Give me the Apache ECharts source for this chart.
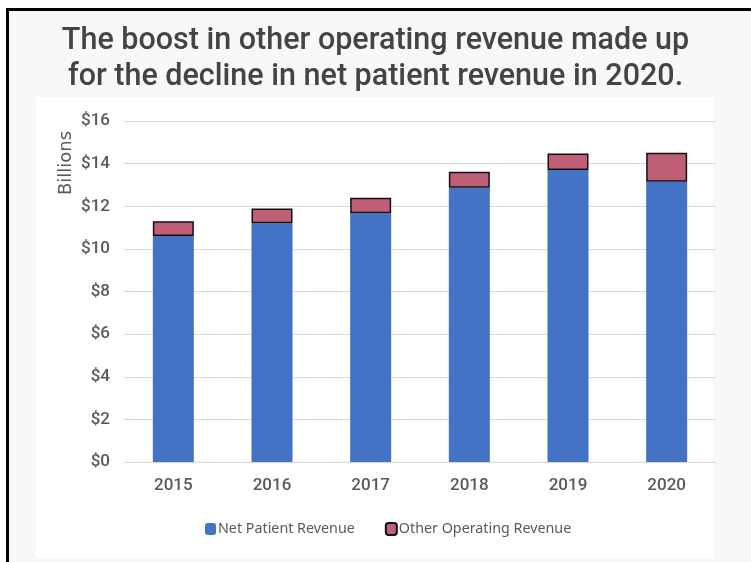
<!DOCTYPE html>
<html>
<head>
<meta charset="utf-8">
<script src="https://cdn.jsdelivr.net/npm/echarts@6/dist/echarts.min.js"></script>
<style>
  html, body { margin: 0; padding: 0; background: #fff; }
  #chart { width: 751px; height: 562px; }
</style>
</head>
<body>
<div id="chart"></div>
<script>
const years = ['2015', '2016', '2017', '2018', '2019', '2020']
const netPatient = [10.6, 11.2, 11.67, 12.87, 13.7, 13.15]
const otherOperating = [0.7, 0.69, 0.73, 0.75, 0.77, 1.36]
const yTicks = [0, 2, 4, 6, 8, 10, 12, 14, 16]

const chart = echarts.init(document.getElementById('chart'))
const axisText = { color: '#595959', fontSize: 17, fontWeight: 500, fontFamily: 'Roboto' }

chart.setOption({
  animation: false,
  graphic: [
    {
      type: 'rect',
      z: -10,
      shape: { x: 7.5, y: 9.5, width: 800, height: 600 },
      style: { fill: '#f8f8f8', stroke: '#000', lineWidth: 3 }
    },
    {
      type: 'rect',
      z: -9,
      shape: { x: 36, y: 97, width: 677, height: 461 },
      style: { fill: '#fff' }
    },
    {
      type: 'text',
      left: 'center',
      top: 23,
      style: {
        text: 'The boost in other operating revenue made up\nfor the decline in net patient revenue in 2020.',
        fill: '#444',
        font: '500 30.5px Roboto',
        lineHeight: 36,
        textAlign: 'center'
      }
    },
    {
      type: 'text',
      x: 66,
      y: 163,
      rotation: Math.PI / 2,
      style: {
        text: 'Billions',
        fill: '#595959',
        font: '18px "DejaVu Sans"',
        textAlign: 'center',
        textVerticalAlign: 'middle'
      }
    }
  ],
  grid: { left: 124, right: 35, top: 121, bottom: 100 },
  xAxis: {
    type: 'category',
    data: years,
    axisTick: { show: false },
    axisLine: { lineStyle: { color: '#d9d9d9' } },
    axisLabel: Object.assign({ margin: 15 }, axisText)
  },
  yAxis: {
    type: 'value',
    min: yTicks[0],
    max: yTicks[yTicks.length - 1],
    interval: 2,
    axisLine: { show: false },
    axisTick: { show: false },
    splitLine: { lineStyle: { color: '#d9d9d9' } },
    axisLabel: Object.assign({ margin: 14, formatter: v => '$' + v }, axisText)
  },
  legend: {
    left: 200,
    top: 517,
    itemWidth: 11,
    itemHeight: 12,
    itemGap: 30,
    textStyle: { color: '#595959', fontSize: 14.3, fontFamily: 'Noto Sans', padding: [0, 0, 0, -3] },
    data: ['Net Patient Revenue', 'Other Operating Revenue']
  },
  series: [
    {
      name: 'Net Patient Revenue',
      type: 'bar',
      stack: 'rev',
      barWidth: 41,
      data: netPatient,
      itemStyle: { color: '#4472c4' }
    },
    {
      name: 'Other Operating Revenue',
      type: 'bar',
      stack: 'rev',
      barWidth: 41,
      data: otherOperating,
      itemStyle: { color: '#be5f77', borderColor: '#111', borderWidth: 1.5 }
    }
  ]
})
</script>
</body>
</html>
